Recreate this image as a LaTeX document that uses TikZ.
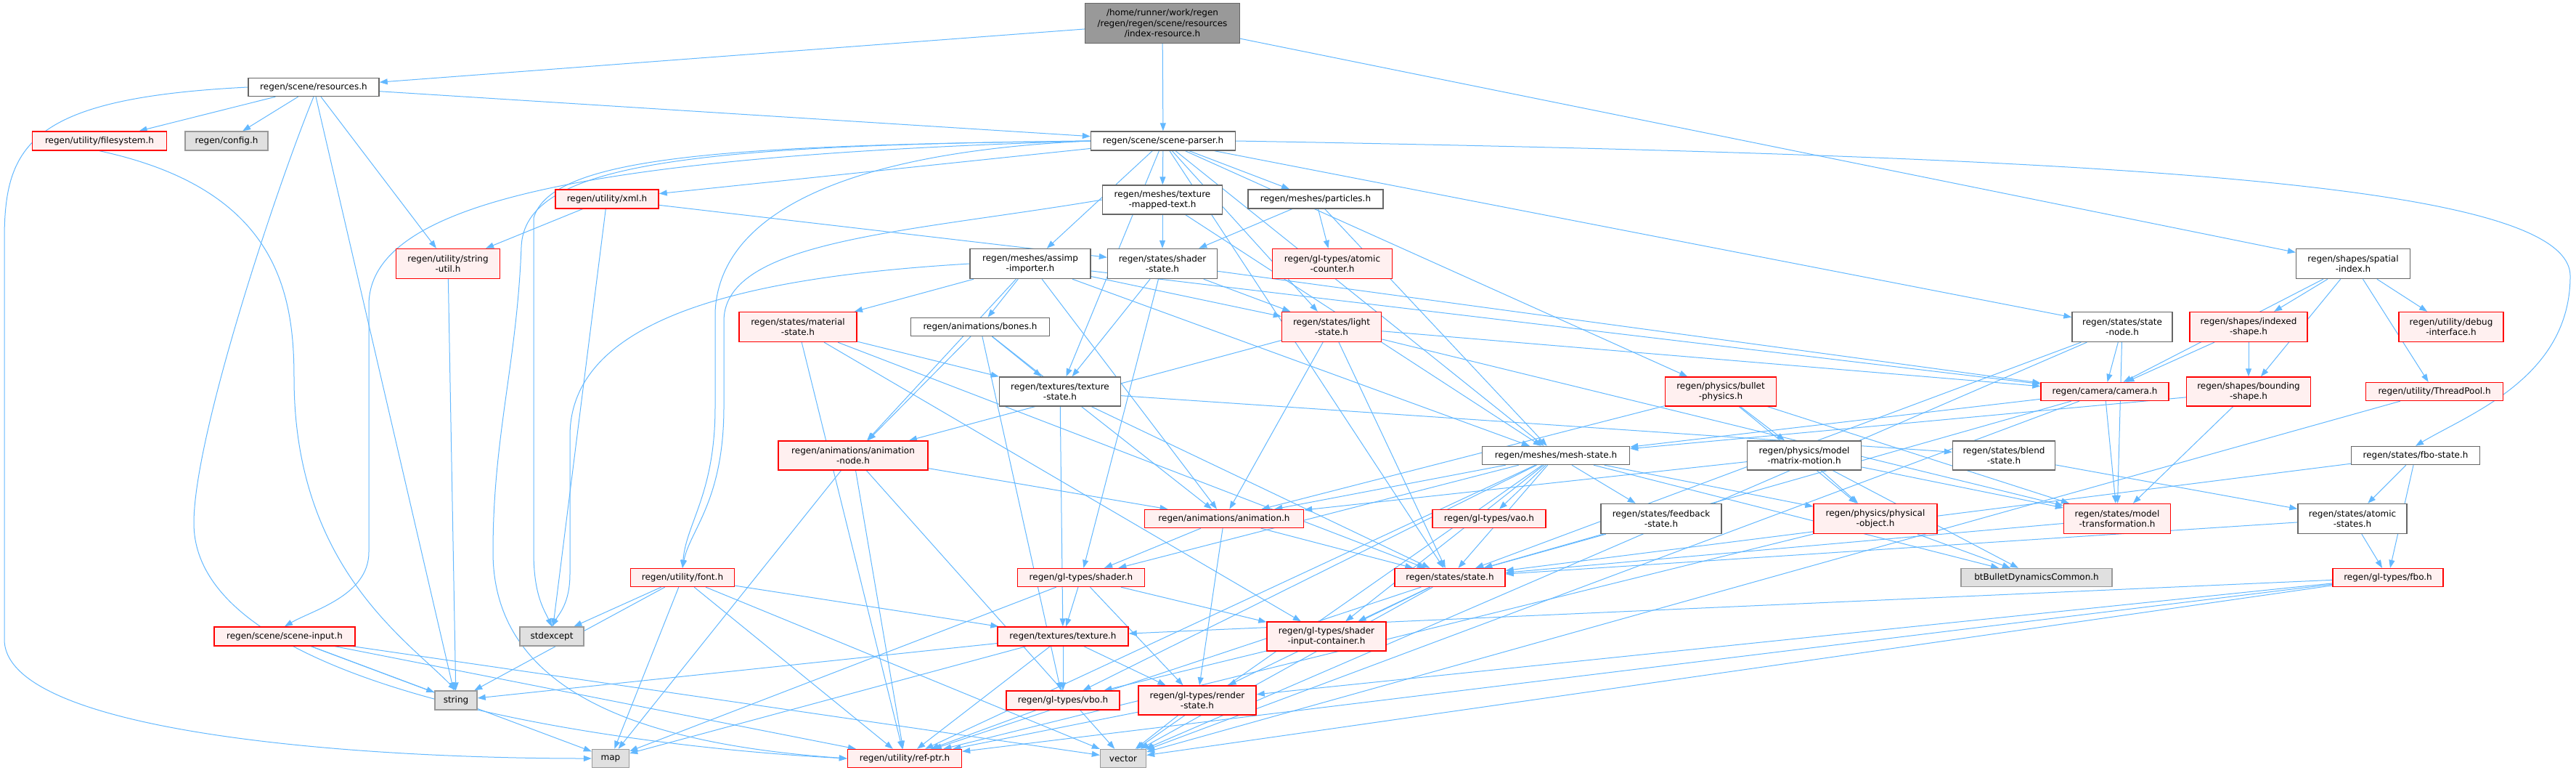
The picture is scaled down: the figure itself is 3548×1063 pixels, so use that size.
\documentclass[tikz,border=0pt]{standalone}
\usepackage{fontspec}
\setmainfont{DejaVu Sans}
\usetikzlibrary{arrows.meta}
\definecolor{dxedge}{RGB}{99,184,255}
\definecolor{dxred}{RGB}{255,0,0}
\definecolor{dxpink}{RGB}{255,240,240}
\definecolor{dxgray}{RGB}{102,102,102}
\definecolor{dxext}{RGB}{224,224,224}
\definecolor{dxextline}{RGB}{153,153,153}
\definecolor{dxroot}{RGB}{153,153,153}
\pgfdeclarelayer{edges}
\pgfsetlayers{edges,main}
\tikzset{
  box/.style={draw,line width=1.4pt,inner sep=0pt,align=center,
    font=\fontsize{12}{14.3}\selectfont,text=black},
  docbox/.style={box,draw=dxgray,fill=white},
  redbox/.style={box,draw=dxred,fill=dxpink},
  extbox/.style={box,draw=dxextline,fill=dxext},
  rootbox/.style={box,draw=dxgray,fill=dxroot},
  dep/.style={draw=dxedge,line width=1pt,-{Triangle[length=11pt,width=8pt]}}
}

\begin{document}
\begin{tikzpicture}[x=1pt,y=-1pt]
  \useasboundingbox (0,0) rectangle (3548,1063);

  % top rows
  \node[rootbox,minimum width=213,minimum height=55] (root) at (1601,32)
    {/home/runner/work/regen\\/regen/regen/scene/resources\\/index-resource.h};
  \node[docbox,minimum width=180,minimum height=25] (resources) at (432,120) {regen/scene/resources.h};
  \node[redbox,minimum width=185,minimum height=26] (filesystem) at (137,194) {regen/utility/filesystem.h};
  \node[extbox,minimum width=114,minimum height=26] (config) at (312,194) {regen/config.h};
  \node[docbox,minimum width=199,minimum height=26] (parser) at (1602,194) {regen/scene/scene-parser.h};
  \node[redbox,minimum width=142,minimum height=26] (xml) at (836,274) {regen/utility/xml.h};
  \node[docbox,minimum width=165,minimum height=40] (texmapped) at (1601,275) {regen/meshes/texture\\-mapped-text.h};
  \node[docbox,minimum width=186,minimum height=26] (particles) at (1812,274) {regen/meshes/particles.h};
  \node[redbox,minimum width=143,minimum height=41] (strutil) at (617,363) {regen/utility/string\\-util.h};
  \node[docbox,minimum width=166,minimum height=41] (assimp) at (1419,363) {regen/meshes/assimp\\-importer.h};
  \node[docbox,minimum width=151,minimum height=41] (shaderstate) at (1601,363) {regen/states/shader\\-state.h};
  \node[redbox,minimum width=165,minimum height=41] (atomiccounter) at (1835,363) {regen/gl-types/atomic\\-counter.h};
  \node[docbox,minimum width=157,minimum height=41] (spatial) at (3241,363) {regen/shapes/spatial\\-index.h};

  % middle rows
  \node[redbox,minimum width=162,minimum height=41] (material) at (1099,450) {regen/states/material\\-state.h};
  \node[docbox,minimum width=191,minimum height=25] (bones) at (1350,450) {regen/animations/bones.h};
  \node[redbox,minimum width=137,minimum height=41] (lightstate) at (1834,450) {regen/states/light\\-state.h};
  \node[docbox,minimum width=138,minimum height=41] (statenode) at (2923,450) {regen/states/state\\-node.h};
  \node[redbox,minimum width=162,minimum height=41] (indexed) at (3097,450) {regen/shapes/indexed\\-shape.h};
  \node[redbox,minimum width=144,minimum height=41] (debugif) at (3376,450) {regen/utility/debug\\-interface.h};
  \node[docbox,minimum width=167,minimum height=40] (texstate) at (1460,539) {regen/textures/texture\\-state.h};
  \node[redbox,minimum width=153,minimum height=40] (bullet) at (2370,539) {regen/physics/bullet\\-physics.h};
  \node[redbox,minimum width=176,minimum height=25] (camera) at (2899,539) {regen/camera/camera.h};
  \node[redbox,minimum width=171,minimum height=40] (bounding) at (3097,539) {regen/shapes/bounding\\-shape.h};
  \node[redbox,minimum width=189,minimum height=25] (threadpool) at (3353,539) {regen/utility/ThreadPool.h};
  \node[redbox,minimum width=206,minimum height=40] (animnode) at (1175,627) {regen/animations/animation\\-node.h};
  \node[docbox,minimum width=203,minimum height=25] (meshstate) at (2143,627) {regen/meshes/mesh-state.h};
  \node[docbox,minimum width=157,minimum height=40] (mmotion) at (2485,627) {regen/physics/model\\-matrix-motion.h};
  \node[docbox,minimum width=141,minimum height=40] (blend) at (2760,627) {regen/states/blend\\-state.h};
  \node[docbox,minimum width=177,minimum height=25] (fbostate) at (3327,627) {regen/states/fbo-state.h};
  \node[redbox,minimum width=219,minimum height=25] (animation) at (1686,714) {regen/animations/animation.h};
  \node[redbox,minimum width=156,minimum height=25] (vao) at (2051,714) {regen/gl-types/vao.h};
  \node[docbox,minimum width=166,minimum height=41] (feedback) at (2288,714) {regen/states/feedback\\-state.h};
  \node[redbox,minimum width=170,minimum height=41] (physobj) at (2583,714) {regen/physics/physical\\-object.h};
  \node[redbox,minimum width=147,minimum height=41] (modeltf) at (2916,714) {regen/states/model\\-transformation.h};
  \node[docbox,minimum width=150,minimum height=41] (atomicstates) at (3240,714) {regen/states/atomic\\-states.h};

  % bottom rows
  \node[redbox,minimum width=143,minimum height=25] (font) at (940,795) {regen/utility/font.h};
  \node[redbox,minimum width=175,minimum height=25] (shader) at (1489,795) {regen/gl-types/shader.h};
  \node[redbox,minimum width=152,minimum height=25] (state) at (1997,795) {regen/states/state.h};
  \node[extbox,minimum width=208,minimum height=25] (bt) at (2805,795) {btBulletDynamicsCommon.h};
  \node[redbox,minimum width=152,minimum height=25] (fbo) at (3289,795) {regen/gl-types/fbo.h};
  \node[redbox,minimum width=194,minimum height=26] (sceneinput) at (392,876) {regen/scene/scene-input.h};
  \node[extbox,minimum width=88,minimum height=26] (stdexcept) at (760,876) {stdexcept};
  \node[redbox,minimum width=180,minimum height=26] (texture) at (1464,876) {regen/textures/texture.h};
  \node[redbox,minimum width=164,minimum height=40] (sic) at (1827,876) {regen/gl-types/shader\\-input-container.h};
  \node[extbox,minimum width=58,minimum height=26] (string) at (628,964) {string};
  \node[redbox,minimum width=156,minimum height=26] (vbo) at (1464,964) {regen/gl-types/vbo.h};
  \node[redbox,minimum width=162,minimum height=40] (renderstate) at (1649,964) {regen/gl-types/render\\-state.h};
  \node[extbox,minimum width=51,minimum height=25] (map) at (841,1044) {map};
  \node[redbox,minimum width=157,minimum height=25] (refptr) at (1246,1044) {regen/utility/ref-ptr.h};
  \node[extbox,minimum width=63,minimum height=25] (vector) at (1547,1044) {vector};

  \begin{pgfonlayer}{edges}
    % straight includes
    \foreach \a/\b in {root/resources,root/parser,root/spatial,
      resources/filesystem,resources/config,resources/strutil,resources/parser,resources/string,
      strutil/string,xml/strutil,xml/stdexcept,xml/shaderstate,
      parser/xml,parser/texmapped,parser/particles,parser/assimp,parser/meshstate,
      parser/bullet,parser/statenode,parser/lightstate,parser/texstate,parser/state,
      texmapped/shaderstate,texmapped/meshstate,
      particles/shaderstate,particles/atomiccounter,particles/meshstate,
      assimp/material,assimp/bones,assimp/animnode,assimp/animation,assimp/lightstate,
      assimp/meshstate,assimp/camera,
      shaderstate/texstate,shaderstate/shader,shaderstate/lightstate,shaderstate/camera,
      material/texstate,material/sic,material/refptr,material/state,
      bones/texstate,bones/animnode,bones/vbo,bones/animation,
      lightstate/animnode,lightstate/animation,lightstate/camera,lightstate/modeltf,lightstate/state,
      texstate/texture,texstate/state,texstate/blend,
      animnode/animation,animnode/map,animnode/refptr,animnode/vector,
      bullet/animation,bullet/mmotion,bullet/physobj,bullet/modeltf,
      mmotion/animation,mmotion/physobj,mmotion/bt,mmotion/modeltf,
      meshstate/animation,meshstate/vao,meshstate/feedback,meshstate/state,meshstate/shader,
      meshstate/sic,meshstate/vbo,meshstate/refptr,meshstate/vector,meshstate/physobj,meshstate/bt,
      physobj/bt,physobj/refptr,
      statenode/camera,statenode/modeltf,statenode/state,statenode/vector,
      spatial/camera,spatial/indexed,spatial/bounding,spatial/debugif,spatial/threadpool,
      indexed/camera,indexed/bounding,
      camera/meshstate,camera/modeltf,camera/state,camera/vector,
      bounding/meshstate,bounding/modeltf,threadpool/vector,
      blend/atomicstates,fbostate/atomicstates,fbostate/fbo,fbostate/state,
      atomicstates/fbo,atomicstates/state,modeltf/state,feedback/state,
      fbo/texture,fbo/renderstate,fbo/refptr,fbo/vector,
      font/string,font/map,font/refptr,font/vector,font/texture,font/stdexcept,
      shader/texture,shader/sic,shader/renderstate,shader/map,
      state/sic,state/renderstate,state/refptr,state/vector,
      sceneinput/string,sceneinput/map,sceneinput/refptr,sceneinput/vector,
      texture/string,texture/vbo,texture/renderstate,texture/map,texture/refptr,
      sic/vbo,vbo/refptr,renderstate/refptr,renderstate/vector,
      animation/shader,animation/renderstate,animation/state}
      \draw[dep] (\a) -- (\b);

    % long detours round the sides
    \draw[dep] (resources.west) .. controls (40,135) and (6,200) .. (6,330)
      -- (6,880) .. controls (6,1010) and (500,1044) .. (map.west);
    \draw[dep] (resources.south) .. controls (380,260) and (267,600) .. (267,720)
      .. controls (267,960) and (900,1030) .. (refptr.west);
    \draw[dep] (filesystem.south) .. controls (380,260) and (405,400) .. (405,520)
      .. controls (405,780) and (560,880) .. (string.north);
    \draw[dep] (parser.west) .. controls (800,215) and (508,280) .. (508,420)
      -- (508,760) .. controls (508,820) and (430,840) .. (sceneinput.north);
    \draw[dep] (parser.east) .. controls (2900,215) and (3540,250) .. (3540,380)
      .. controls (3540,520) and (3400,570) .. (fbostate.north);
    % curves down the left side
    \draw[dep] (parser.west) .. controls (1150,210) and (990,300) .. (985,430)
      -- (985,560) .. controls (985,680) and (945,720) .. (font.north);
    \draw[dep] (texmapped.west) .. controls (1250,320) and (1000,330) .. (997,440)
      -- (997,560) .. controls (997,690) and (950,730) .. (font.north);
    \draw[dep] (parser.west) .. controls (1000,200) and (760,215) .. (735,300)
      -- (735,760) .. controls (735,820) and (750,840) .. (stdexcept.north);
    \draw[dep] (assimp.west) .. controls (1050,380) and (785,430) .. (785,600)
      -- (785,790) .. controls (785,830) and (770,845) .. (stdexcept.north);
    \draw[dep] (parser.west) .. controls (950,200) and (722,225) .. (718,340)
      .. controls (712,500) and (679,600) .. (679,760)
      .. controls (679,960) and (900,1025) .. (refptr.west);
  \end{pgfonlayer}
\end{tikzpicture}
\end{document}
